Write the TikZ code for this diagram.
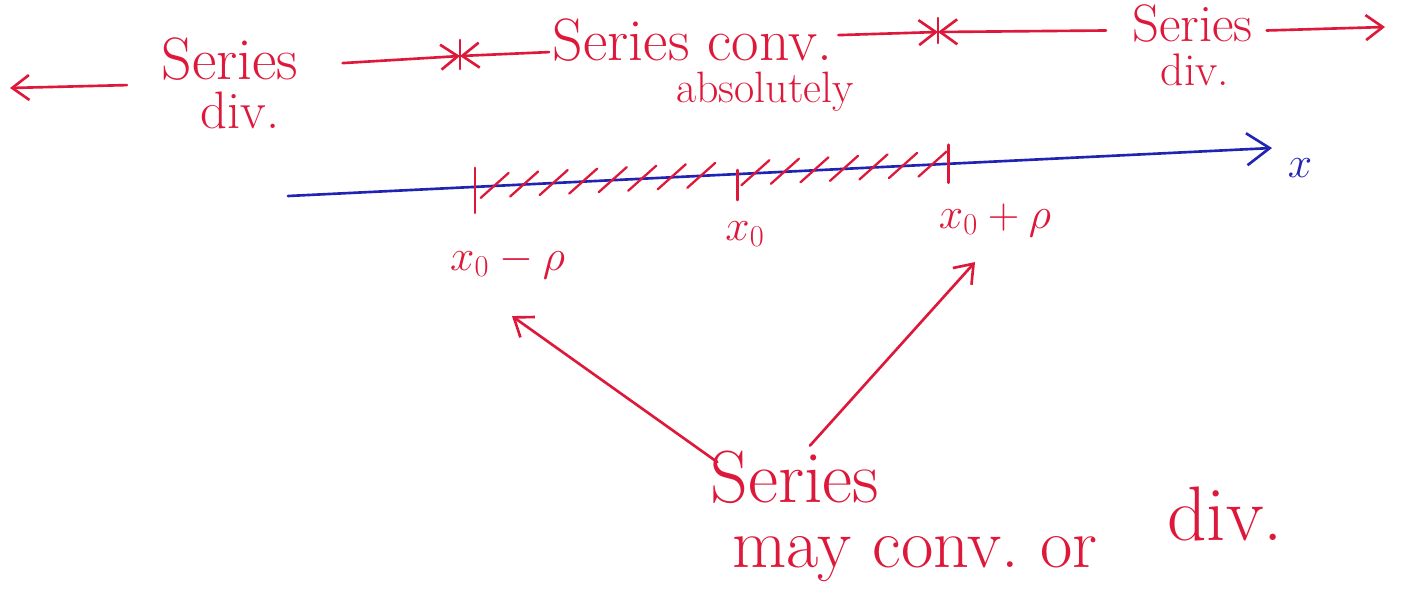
\documentclass[tikz,border=0pt]{standalone}
\usetikzlibrary{arrows.meta, calc, positioning}

\definecolor{penred}{RGB}{222,24,58}
\definecolor{penblue}{RGB}{32,36,178}

\begin{document}
\begin{tikzpicture}[>={Straight Barb[length=3.4mm,width=5mm]}, line width=1.5pt, line cap=round]
        % --- STYLES ---
        \tikzset{
            note/.style={text=penred, font=\fontsize{34}{36}\selectfont, inner sep=0pt, anchor=base},
            ptlabel/.style={text=penred, font=\fontsize{23}{25}\selectfont, inner sep=1pt, anchor=base},
            redline/.style={draw=penred},
            hatch/.style={draw=penred, line width=1.3pt},
            axis/.style={draw=penblue, >={Straight Barb[length=4.6mm,width=6.4mm]}}
        }
        \useasboundingbox (0,0) rectangle (28.04,-11.92);

        % --- TOP ROW: REGIONS ---
        \node [note] (lser) at (4.6,-1.58) {Series};
        \node [note, font=\fontsize{30}{32}\selectfont] (ldiv) at (4.8,-2.56) {div.};
        \node [note] (cser) at (13.85,-1.2) {Series conv.};
        \node [note, font=\fontsize{25}{27}\selectfont] (cabs) at (15.3,-2.05) {absolutely};
        \node [note, font=\fontsize{30}{32}\selectfont] (rser) at (23.85,-0.82) {Series};
        \node [note, font=\fontsize{26}{28}\selectfont] (rdiv) at (23.9,-1.7) {div.};

        \coordinate (farl) at (0.2,-1.76);
        \coordinate (bara) at (9.2,-1.12);
        \coordinate (barb) at (18.76,-0.64);
        \coordinate (farr) at (27.7,-0.54);

        \draw [redline, ->] ([shift={(-0.67,-0.53)}]lser.west) -- (farl);
        \draw [redline, ->] ([shift={(0.86,-0.09)}]lser.east) -- (bara);
        \draw [redline, ->] ([shift={(-0.05,-0.25)}]cser.west) -- (bara);
        \draw [redline, ->] ([shift={(0.1,0.09)}]cser.east) -- (barb);
        \draw [redline, ->] ([shift={(-0.5,-0.15)}]rser.west) -- (barb);
        \draw [redline, ->] ([shift={(0.25,-0.15)}]rser.east) -- (farr);

        \draw [redline] ([yshift=0.32cm]bara) -- ([yshift=-0.26cm]bara);
        \draw [redline] ([yshift=0.28cm]barb) -- ([yshift=-0.22cm]barb);

        % --- AXIS ---
        \coordinate (axl) at (5.76,-3.92);
        \coordinate (axr) at (25.44,-2.96);
        \draw [axis, ->] (axl) -- (axr);
        \node [text=penblue, font=\fontsize{24}{26}\selectfont] (xlab) at (26.0,-3.36) {$x$};

        \coordinate (pa) at ($(axl)!0.19!(axr)$);
        \coordinate (pb) at ($(axl)!0.457!(axr)$);
        \coordinate (pc) at ($(axl)!0.671!(axr)$);

        \draw [redline] ([yshift=0.38cm]pa) -- ([yshift=-0.52cm]pa);
        \draw [redline] ([yshift=0.08cm]pb) -- ([yshift=-0.52cm]pb);
        \draw [redline] ([yshift=0.38cm]pc) -- ([yshift=-0.38cm]pc);

        % hatching of the interval
        \foreach \t in {0.21,0.24,0.27,0.30,0.33,0.36,0.39,0.42,0.475,0.505,0.535,0.565,0.595,0.625,0.655}
            \draw [hatch] ($(axl)!\t!(axr)+(-0.28,-0.24)$) -- ($(axl)!\t!(axr)+(0.28,0.26)$);

        \node [ptlabel] (xl) at (10.15,-5.4) {$x_0-\rho$};
        \node [ptlabel] (xm) at (14.9,-4.8) {$x_0$};
        \node [ptlabel, font=\fontsize{25}{27}\selectfont] (xr) at (19.9,-4.56) {$x_0+\rho$};

        % --- BOTTOM NOTE ---
        \node [note, font=\fontsize{42}{44}\selectfont] (bser) at (15.9,-10.05) {Series};
        \node [note, font=\fontsize{40}{42}\selectfont] (bmay) at (18.3,-11.35) {may conv.\ or};
        \node [note, font=\fontsize{44}{46}\selectfont] (bdiv) at (24.5,-10.8) {div.};

        \draw [redline, ->] ([shift={(0.16,-0.25)}]bser.north west) -- ([shift={(0.09,-0.69)}]xl.south);
        \draw [redline, ->] ([shift={(0.3,0.08)}]bser.north) -- ([shift={(-0.4,-0.45)}]xr.south);

    \end{tikzpicture}
\end{document}
